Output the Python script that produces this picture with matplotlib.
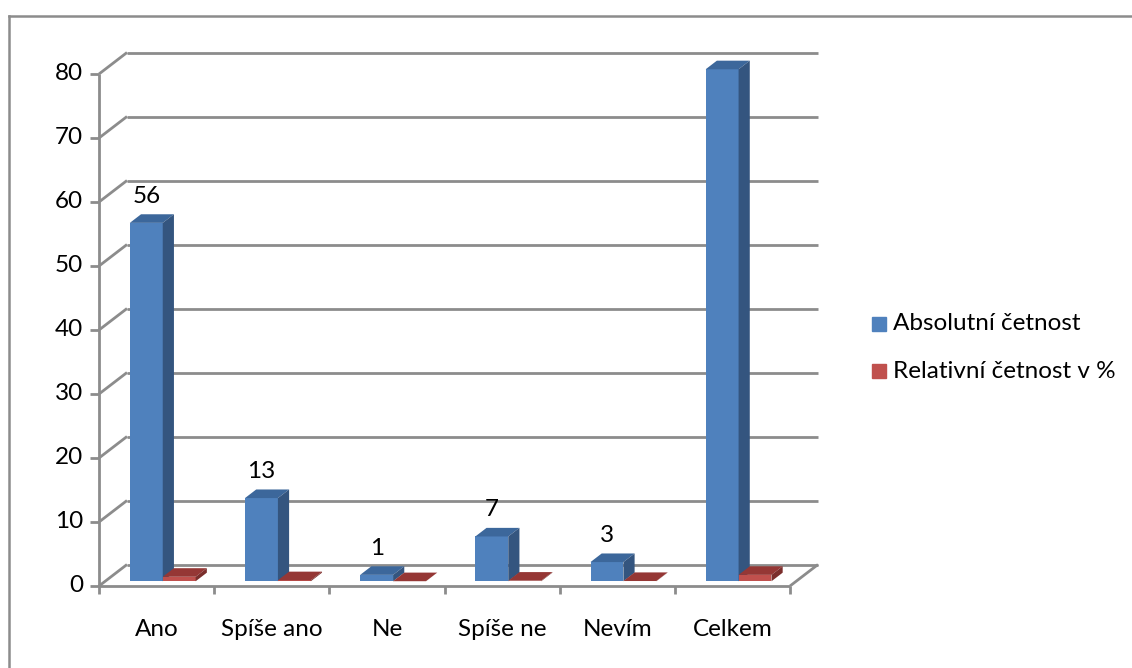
import numpy as np
import matplotlib.pyplot as plt
from matplotlib.patches import Polygon, Rectangle
from matplotlib.lines import Line2D

categories = ['Ano', 'Spíše ano', 'Ne', 'Spíše ne', 'Nevím', 'Celkem']
absolutni = [56, 13, 1, 7, 3, 80]
relativni = [0.70, 0.16, 0.01, 0.09, 0.04, 1.00]
series_names = ['Absolutní četnost', 'Relativní četnost v %']
y_ticks = [0, 10, 20, 30, 40, 50, 60, 70, 80]

# front, top and side face colours for each series
blue = ('#4f81bd', '#3c679b', '#34557f')
red = ('#c0504d', '#953735', '#7b2e2c')
grid_c = '#8c8c8c'

plt.rcParams['font.family'] = ['Lato', 'DejaVu Sans']
FS = 17.5

W, H = 1132, 668
fig = plt.figure(figsize=(W / 100, H / 100), dpi=100)
ax = fig.add_axes([99 / W, 82 / H, 691 / W, 512 / H])
ax.set_xlim(0, len(categories))
ax.set_ylim(0, y_ticks[-1])
ax.axis('off')

# pixels per data unit, used to turn the 3D depth into data offsets
px_x = ax.bbox.width / len(categories)
px_y = ax.bbox.height / y_ticks[-1]
WALL_DX, WALL_DY = 28, 21.5


def depth(d):
    return d * WALL_DX / px_x, d * WALL_DY / px_y


def line(xs, ys, **kw):
    ax.add_line(Line2D(xs, ys, color=grid_c, lw=2.0, clip_on=False,
                       solid_capstyle='butt', **kw))


n = len(categories)
sx, sy = depth(1.0)
# back wall gridlines, side wall diagonals and tick stubs
for v in y_ticks:
    line([sx, n + sx], [v + sy, v + sy])
    line([0, sx], [v, v + sy])
    line([-9 / px_x, 0], [v, v])
    ax.text(-16 / px_x, v, str(v), ha='right', va='center', fontsize=FS)
line([0, 0], [0, y_ticks[-1]])
line([0, n], [0, 0])
line([n, n + sx], [0, sy])
for i in range(n + 1):
    line([i, i], [0, -8 / px_y])
for i, c in enumerate(categories):
    ax.text(i + 0.5, -44 / px_y, c, ha='center', va='center', fontsize=FS)

bar_w = 1 / 3.5
fx, fy = depth(0.22)
bx, by = depth(0.62)


def bar3d(x0, v, cols):
    ax.bar(x0 + fx, v, bar_w, bottom=fy, align='edge', color=cols[0],
           clip_on=False, zorder=3)
    top = [(x0 + fx, v + fy), (x0 + bar_w + fx, v + fy),
           (x0 + bar_w + bx, v + by), (x0 + bx, v + by)]
    side = [(x0 + bar_w + fx, fy), (x0 + bar_w + bx, by),
            (x0 + bar_w + bx, v + by), (x0 + bar_w + fx, v + fy)]
    ax.add_patch(Polygon(top, closed=True, color=cols[1], lw=0,
                         clip_on=False, zorder=3))
    ax.add_patch(Polygon(side, closed=True, color=cols[2], lw=0,
                         clip_on=False, zorder=3))


for i in range(n):
    xb = i + 0.5 - bar_w
    bar3d(xb, absolutni[i], blue)
    bar3d(i + 0.5, relativni[i], red)
    ax.annotate(str(absolutni[i]), (xb + fx + bar_w / 2, absolutni[i] + fy),
                xytext=(0, 16), textcoords='offset pixels',
                ha='center', va='bottom', fontsize=FS, clip_on=False)

# legend
for k, (name, cols) in enumerate(zip(series_names, [blue, red])):
    yc = 1 - (324 + 47 * k) / H
    fig.patches.append(Rectangle((872 / W, yc - 7 / H), 14 / W, 14 / H,
                                 transform=fig.transFigure, color=cols[0]))
    fig.text(893 / W, yc, name, ha='left', va='center', fontsize=FS)

# chart frame
frame = dict(color='#8c8c8c', lw=1.8, transform=fig.transFigure)
fig.add_artist(Line2D([9 / W, 1.01], [1 - 16 / H, 1 - 16 / H], **frame))
fig.add_artist(Line2D([9 / W, 9 / W], [1 - 16 / H, -0.01], **frame))

fig.savefig('out.png', dpi=100)
